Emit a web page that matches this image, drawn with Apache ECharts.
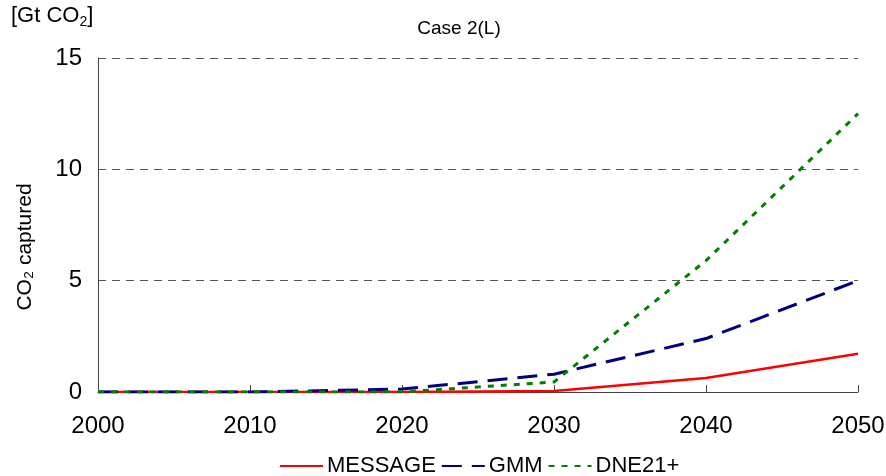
<!DOCTYPE html>
<html>
<head>
<meta charset="utf-8">
<script src="https://cdn.jsdelivr.net/npm/echarts@6/dist/echarts.min.js"></script>
<style>
  html, body { margin: 0; padding: 0; background: #fff; }
</style>
</head>
<body>
<div id="main" style="width:886px;height:476px;"></div>
<script type="text/javascript">
  // data
  var years = [2000, 2010, 2020, 2030, 2040, 2050];
  var message = [0, 0, 0, 0.05, 0.63, 1.72];
  var gmm = [0, 0, 0.13, 0.8, 2.4, 5.0];
  var dne21 = [0, 0, 0, 0.45, 5.9, 12.5];
  var yTicks = [0, 5, 10, 15];

  function pairs(vals) {
    return years.map(function (y, i) { return [y, vals[i]]; });
  }

  var font = 'Liberation Sans, Arial, sans-serif';

  var option = {
    animation: false,
    backgroundColor: '#fff',
    textStyle: { fontFamily: font },
    title: {
      text: 'Case 2(L)',
      left: 454,
      top: 14,
      textAlign: 'center',
      textStyle: { fontSize: 19, fontWeight: 'normal', color: '#000', fontFamily: font }
    },
    graphic: [
      {
        type: 'text',
        left: 11,
        top: 5,
        style: {
          text: '[Gt CO{s|2}]',
          font: '22px ' + font,
          fill: '#000',
          rich: { s: { fontSize: 14, padding: [12, 0, 0, 0], fontFamily: font } }
        }
      },
      {
        type: 'text',
        x: 15,
        y: 247,
        rotation: Math.PI / 2,
        style: {
          text: 'CO₂ captured',
          font: '21px ' + font,
          fill: '#000',
          align: 'center',
          verticalAlign: 'top'
        }
      }
    ],
    legend: {
      top: 450,
      left: 274,
      itemWidth: 43,
      itemHeight: 14,
      itemGap: 5,
      itemStyle: { color: 'transparent', borderColor: 'transparent', borderWidth: 0 },
      textStyle: { fontSize: 22, color: '#000', fontFamily: font, padding: [0, 0, 0, -1] },
      data: ['MESSAGE', 'GMM', 'DNE21+']
    },
    grid: {
      left: 98,
      right: 28,
      top: 58,
      bottom: 84,
      outerBoundsMode: 'none'
    },
    xAxis: {
      type: 'value',
      min: 2000,
      max: 2050,
      interval: 10,
      axisLine: { lineStyle: { color: '#444', width: 1 } },
      axisTick: { inside: true, length: 7, lineStyle: { color: '#444' } },
      axisLabel: {
        fontSize: 24,
        color: '#000',
        margin: 22,
        fontFamily: font,
        formatter: function (v) { return String(v); }
      },
      splitLine: { show: false }
    },
    yAxis: {
      type: 'value',
      min: yTicks[0],
      max: yTicks[yTicks.length - 1],
      interval: 5,
      axisLine: { show: true, lineStyle: { color: '#444', width: 1 } },
      axisTick: { show: false },
      axisLabel: { fontSize: 24, color: '#000', margin: 16, fontFamily: font },
      splitLine: { lineStyle: { type: [8, 6], color: '#555', width: 1 } }
    },
    series: [
      {
        name: 'MESSAGE',
        type: 'line',
        symbol: 'none',
        data: pairs(message),
        lineStyle: { color: '#ff0000', width: 2.5 },
        itemStyle: { color: '#ff0000' }
      },
      {
        name: 'GMM',
        type: 'line',
        symbol: 'none',
        data: pairs(gmm),
        lineStyle: { color: '#000080', width: 3, type: [20, 10] },
        itemStyle: { color: '#000080' }
      },
      {
        name: 'DNE21+',
        type: 'line',
        symbol: 'none',
        data: pairs(dne21),
        lineStyle: { color: '#008000', width: 3, type: [6, 7] },
        itemStyle: { color: '#008000' }
      }
    ]
  };

  var myChart = echarts.init(document.getElementById('main'));
  myChart.setOption(option);
</script>
</body>
</html>
